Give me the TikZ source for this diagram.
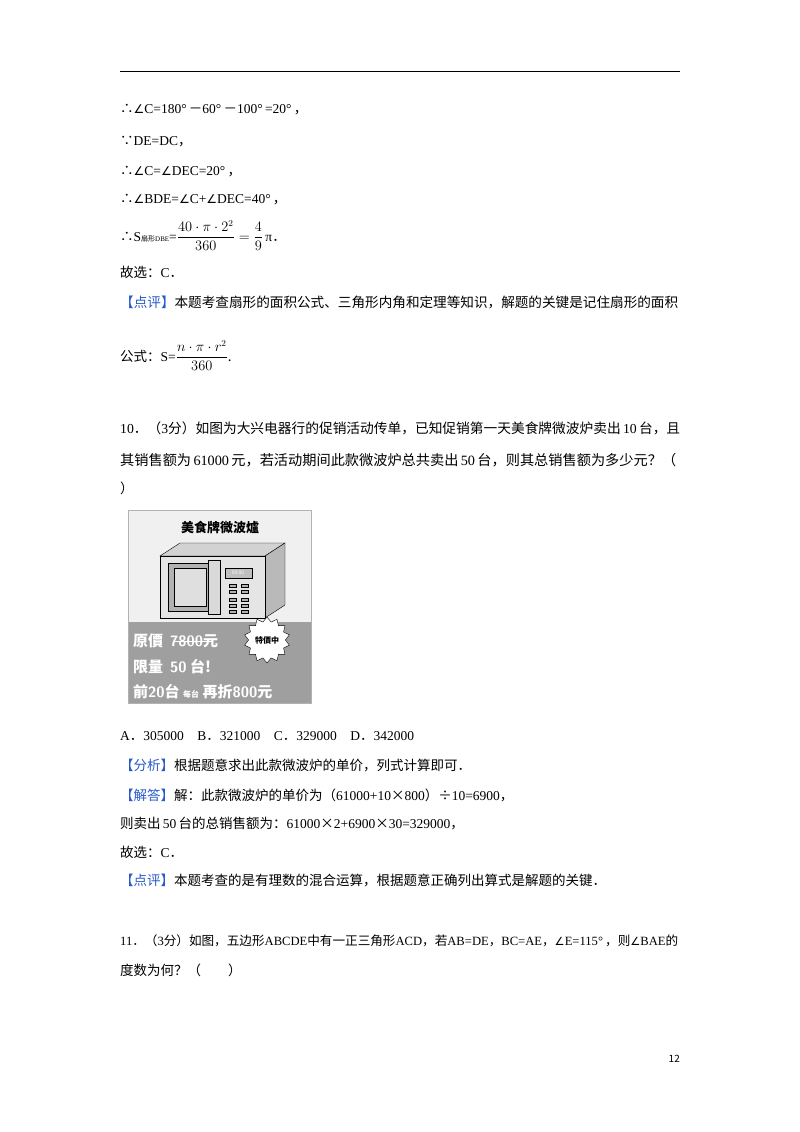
\documentclass[tikz,border=0pt]{standalone}
\usepackage{fontspec}
\usepackage{graphicx}
\usetikzlibrary{shapes.geometric}
\setmainfont{Noto Sans CJK SC}
\newfontfamily\lat{Liberation Serif}
\newfontfamily\djv{DejaVu Sans}
\newcommand{\lt}[1]{{\lat #1}}
\newcommand{\an}{{\djv\fontsize{12}{14}\selectfont ∠}}
\begin{document}
\begin{tikzpicture}[x=1pt,y=-1pt,
  txt/.style={anchor=base west,inner sep=0pt,font=\fontsize{13.5}{16}\selectfont},
  wt/.style={anchor=base west,inner sep=0pt,text=white,font=\fontsize{15}{16}\selectfont\bfseries}]
\useasboundingbox[fill=white] (0,0) rectangle (800,1132);
\draw[line width=1pt] (120,72) -- (680,72);
\definecolor{bl}{RGB}{40,90,200}
\newcommand{\dpp}{{\color{bl}【点评】}}
\node[txt] (l1) at (120,113) {∴\an\lt{C=180°}\,－\lt{60°}\,－\lt{100°\,=20°}\,，};
\node[txt] (l2) at (120,145) {∵\lt{DE=DC}，};
\node[txt] (l3) at (120,175) {∴\an\lt{C=}\an\lt{DEC=20°}\,，};
\node[txt] (l4) at (120,203) {∴\an\lt{BDE=}\an\lt{C+}\an\lt{DEC=40°}\,，};
\node[txt] (l5) at (120,241) {∴\lt{S}{\fontsize{7}{8}\selectfont 扇形\lt{DBE}}\lt{=}$\displaystyle\frac{40\cdot\pi\cdot2^2}{360}=\frac{4}{9}$\,\lt{π}．};
\node[txt] (l6) at (120,277) {故选：\lt{C}．};
\node[txt] (l7) at (120,307) {\resizebox{558pt}{!}{\dpp 本题考查扇形的面积公式、三角形内角和定理等知识，解题的关键是记住扇形的面积}};
\node[txt] (l8) at (120,361) {公式：\lt{S=}$\displaystyle\frac{n\cdot\pi\cdot r^2}{360}$.};
\node[txt] (q1) at (120,433) {\resizebox{560pt}{!}{\lt{10}．（\lt{3}分）如图为大兴电器行的促销活动传单，已知促销第一天美食牌微波炉卖出\,\lt{10}\,台，且}};
\node[txt] (q2) at (120,465) {\resizebox{556pt}{!}{其销售额为\,\lt{61000}\,元，若活动期间此款微波炉总共卖出\,\lt{50}\,台，则其总销售额为多少元？（}};
\node[txt] (q3) at (120,493) {）};
% image
\fill[gray!12] (128,510) rectangle (311,622);
\fill[gray!75] (128,622) rectangle (311,703);
\draw[gray!60,line width=1pt] (128,510) rectangle (311,703);
\node[inner sep=0pt,font=\fontsize{13}{14}\selectfont\bfseries] (ti) at (220,527) {美食牌微波爐};
\fill[gray!35,draw=black] (160,556) -- (180,543) -- (285,543) -- (265,556) -- cycle;
\fill[gray!55,draw=black] (265,556) -- (285,543) -- (285,605) -- (265,618) -- cycle;
\draw[fill=gray!20] (160,556) rectangle (265,618);
\draw[fill=gray!60] (168,563) rectangle (212,611);
\draw[fill=gray!25] (174,568) rectangle (206,606);
\draw[fill=gray!30] (208,560) rectangle (220,614);
\draw[fill=gray!50] (225,568) rectangle (252,578);
\node[inner sep=0pt,text=white,font=\fontsize{5}{5}\selectfont] (tm) at (238,573) {00:00};
\foreach \yy in {584,590,598,604,610}{\draw[fill=gray!60] (229,\yy) rectangle (236,\yy+3); \draw[fill=gray!60] (241,\yy) rectangle (248,\yy+3);}
\node[wt] (p1) at (133,646) {原價\ \ {\sffamily 7800}元};
\draw[white,line width=1pt] (p1.base west) ++(40,-5) -- ++(40,0);
\node[wt] (p2) at (133,672) {限量\ \ {\sffamily 50}\ 台!};
\node[wt] (p3) at (133,697) {前{\sffamily 20}台 {\fontsize{8}{8}\selectfont 每台} 再折{\sffamily 800}元};
\node[star,star points=14,star point ratio=1.25,fill=white,draw=black,inner sep=1pt,font=\fontsize{8}{8}\selectfont\bfseries,minimum width=42pt,minimum height=22pt] (sp) at (267,640) {特價中};
\node[txt] (a1) at (120,740) {\lt{A}．\lt{305000\quad B}．\lt{321000\quad C}．\lt{329000\quad D}．\lt{342000}};
\node[txt] (a2) at (120,770) {{\color{bl}【分析】}根据题意求出此款微波炉的单价，列式计算即可．};
\node[txt] (a3) at (120,800) {{\color{bl}【解答】}解：此款微波炉的单价为（\lt{61000+10}×\lt{800}）÷\lt{10=6900}，};
\node[txt] (a4) at (120,828) {则卖出\,\lt{50}\,台的总销售额为：\lt{61000}×\lt{2+6900}×\lt{30=329000}，};
\node[txt] (a5) at (120,857) {故选：\lt{C}．};
\node[txt] (a6) at (120,885) {\dpp 本题考查的是有理数的混合运算，根据题意正确列出算式是解题的关键．};
\node[txt] (b1) at (120,945) {\resizebox{558pt}{!}{\lt{11}．（\lt{3}分）如图，五边形\lt{ABCDE}中有一正三角形\lt{ACD}，若\lt{AB=DE}，\lt{BC=AE}，\an\lt{E=115°}\,，则\an\lt{BAE}的}};
\node[txt] (b2) at (120,975) {度数为何？（\quad\quad ）};
\node[anchor=base east,inner sep=0pt,font=\fontsize{10}{12}\selectfont] (pg) at (680,1062) {12};
\end{tikzpicture}
\end{document}
